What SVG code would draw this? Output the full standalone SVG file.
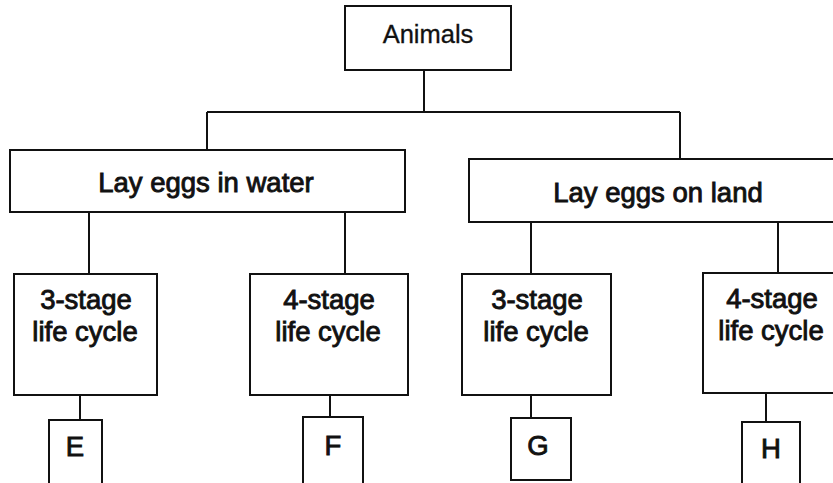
<svg xmlns="http://www.w3.org/2000/svg" width="833" height="483" viewBox="0 0 833 483">
<style>
.box{fill:#fff;stroke:#111;stroke-width:2}
.ln{fill:none;stroke:#111;stroke-width:2}
text{font-family:"Liberation Sans",Arial,sans-serif;font-size:27.5px;fill:#111;text-anchor:middle;stroke:#111;stroke-width:0.9}
text.lt{font-size:25.5px;stroke-width:0.3}
</style>
<rect width="833" height="483" fill="#fff"/>
<g id="connectors">
<path class="ln" d="M424,70 V112 M207,112 H680 M207,112 V150 M680,112 V159"/>
<path class="ln" d="M89,212 V274 M345,212 V274 M531,222 V274 M778,222 V274"/>
<path class="ln" d="M80,395 V420 M330,395 V417 M531,395 V418 M766,393 V422"/>
</g>
<g id="animals"><rect class="box" x="345" y="6" width="166" height="64"/><text class="lt" x="428" y="43">Animals</text></g>
<g id="water"><rect class="box" x="10" y="150" width="395" height="62"/><text x="206" y="192">Lay eggs in water</text></g>
<g id="land"><rect class="box" x="469" y="159" width="380" height="63"/><text x="658" y="202">Lay eggs on land</text></g>
<g id="w3"><rect class="box" x="14" y="274" width="143" height="121"/><text x="86" y="309">3-stage</text><text x="85" y="341">life cycle</text></g>
<g id="w4"><rect class="box" x="250" y="274" width="158" height="121"/><text x="329" y="309">4-stage</text><text x="328" y="341">life cycle</text></g>
<g id="l3"><rect class="box" x="462" y="274" width="149" height="121"/><text x="537" y="309">3-stage</text><text x="536" y="341">life cycle</text></g>
<g id="l4"><rect class="box" x="703" y="273" width="140" height="120"/><text x="772" y="308">4-stage</text><text x="771" y="340">life cycle</text></g>
<g id="E"><rect class="box" x="49" y="420" width="53" height="70"/><text x="75" y="456">E</text></g>
<g id="F"><rect class="box" x="303" y="417" width="60" height="70"/><text x="333" y="455">F</text></g>
<g id="G"><rect class="box" x="511" y="418" width="60" height="62"/><text x="538" y="455">G</text></g>
<g id="H"><rect class="box" x="742" y="422" width="58" height="70"/><text x="771" y="458">H</text></g>
</svg>
